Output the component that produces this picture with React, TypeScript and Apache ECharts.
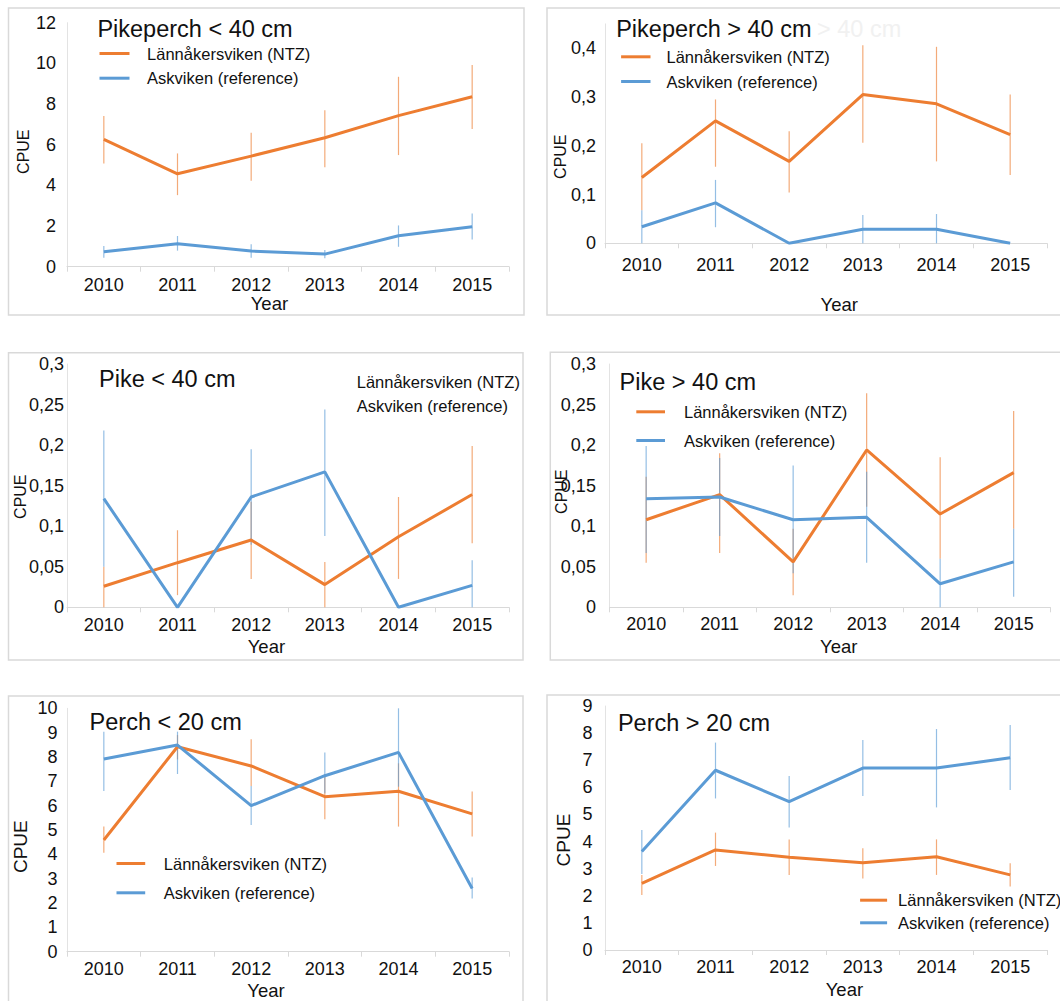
import React, { useEffect, useRef } from 'react';
import * as echarts from 'echarts';

const FONT = '"Liberation Sans", Arial, Helvetica, sans-serif';
const ORANGE = '#ed7d31';
const BLUE = '#5b9bd5';
const NTZ = 'Lännåkersviken (NTZ)';
const REF = 'Askviken (reference)';

const years = ['2010', '2011', '2012', '2013', '2014', '2015'];

// Panel 1: Pikeperch < 40 cm
const p1Ntz = [6.26, 4.57, 5.44, 6.34, 7.43, 8.36];
const p1NtzLow = [5.08, 3.52, 4.23, 4.89, 5.49, 6.77];
const p1NtzHigh = [7.41, 5.57, 6.59, 7.7, 9.34, 9.92];
const p1Ref = [0.74, 1.13, 0.77, 0.62, 1.52, 1.97];
const p1RefLow = [0.44, 0.79, 0.44, 0.41, 0.98, 1.34];
const p1RefHigh = [1.02, 1.51, 1.1, 0.82, 2.03, 2.62];

// Panel 2: Pikeperch > 40 cm
const p2Ntz = [0.135, 0.251, 0.168, 0.305, 0.286, 0.223];
const p2NtzLow = [0.068, 0.157, 0.104, 0.206, 0.168, 0.14];
const p2NtzHigh = [0.205, 0.295, 0.23, 0.406, 0.403, 0.305];
const p2Ref = [0.034, 0.083, 0, 0.029, 0.029, 0];
const p2RefLow = [0, 0.033, 0, 0, 0, 0];
const p2RefHigh = [0.068, 0.13, 0, 0.058, 0.06, 0];

// Panel 3: Pike < 40 cm
const p3Ntz = [0.026, 0.055, 0.083, 0.028, 0.087, 0.139];
const p3NtzLow = [0, 0.015, 0.035, 0, 0.035, 0.079];
const p3NtzHigh = [0.05, 0.095, 0.13, 0.056, 0.136, 0.199];
const p3Ref = [0.134, 0, 0.136, 0.167, 0, 0.027];
const p3RefLow = [0.05, 0, 0.077, 0.088, 0, 0];
const p3RefHigh = [0.218, 0, 0.195, 0.244, 0, 0.058];

// Panel 4: Pike > 40 cm
const p4Ntz = [0.108, 0.139, 0.056, 0.194, 0.115, 0.166];
const p4NtzLow = [0.055, 0.067, 0.015, 0.124, 0.06, 0.097];
const p4NtzHigh = [0.161, 0.19, 0.097, 0.264, 0.185, 0.242];
const p4Ref = [0.134, 0.136, 0.108, 0.111, 0.029, 0.056];
const p4RefLow = [0.067, 0.088, 0.042, 0.055, 0, 0.013];
const p4RefHigh = [0.199, 0.184, 0.175, 0.167, 0.06, 0.097];

// Panel 5: Perch < 20 cm
const p5Ntz = [4.59, 8.42, 7.63, 6.37, 6.59, 5.66];
const p5NtzLow = [4.07, 7.9, 6.81, 5.44, 5.14, 4.73];
const p5NtzHigh = [5.14, 8.9, 8.73, 7.3, 7.74, 6.58];
const p5Ref = [7.92, 8.49, 6.0, 7.23, 8.19, 2.6];
const p5RefLow = [6.6, 7.3, 5.21, 6.51, 6.78, 2.19];
const p5RefHigh = [9.04, 9.04, 6.81, 8.18, 10.0, 3.05];

// Panel 6: Perch > 20 cm
const p6Ntz = [2.46, 3.69, 3.42, 3.22, 3.44, 2.77];
const p6NtzLow = [2.03, 3.1, 2.77, 2.64, 2.77, 2.34];
const p6NtzHigh = [2.77, 4.33, 4.08, 3.75, 4.08, 3.2];
const p6Ref = [3.63, 6.63, 5.47, 6.71, 6.71, 7.09];
const p6RefLow = [2.8, 5.59, 4.52, 5.68, 5.26, 5.9];
const p6RefHigh = [4.43, 7.65, 6.42, 7.75, 8.15, 8.3];

const panels = [
  { title: 'Pikeperch < 40 cm', yMax: 12, yInterval: 2, showMax: true,
    ntz: p1Ntz, ntzLow: p1NtzLow, ntzHigh: p1NtzHigh, ref: p1Ref, refLow: p1RefLow, refHigh: p1RefHigh },
  { title: 'Pikeperch > 40 cm', yMax: 0.45, yInterval: 0.1, showMax: false,
    ntz: p2Ntz, ntzLow: p2NtzLow, ntzHigh: p2NtzHigh, ref: p2Ref, refLow: p2RefLow, refHigh: p2RefHigh },
  { title: 'Pike < 40 cm', yMax: 0.3, yInterval: 0.05, showMax: true,
    ntz: p3Ntz, ntzLow: p3NtzLow, ntzHigh: p3NtzHigh, ref: p3Ref, refLow: p3RefLow, refHigh: p3RefHigh },
  { title: 'Pike > 40 cm', yMax: 0.3, yInterval: 0.05, showMax: true,
    ntz: p4Ntz, ntzLow: p4NtzLow, ntzHigh: p4NtzHigh, ref: p4Ref, refLow: p4RefLow, refHigh: p4RefHigh },
  { title: 'Perch < 20 cm', yMax: 10, yInterval: 1, showMax: true,
    ntz: p5Ntz, ntzLow: p5NtzLow, ntzHigh: p5NtzHigh, ref: p5Ref, refLow: p5RefLow, refHigh: p5RefHigh },
  { title: 'Perch > 20 cm', yMax: 9, yInterval: 1, showMax: true,
    ntz: p6Ntz, ntzLow: p6NtzLow, ntzHigh: p6NtzHigh, ref: p6Ref, refLow: p6RefLow, refHigh: p6RefHigh },
];

// Layout (positions / sizes only)
const layouts = [
  { box: [8.5, 8, 515.5, 307], grid: { left: 67, top: 22.7, width: 442, height: 244 },
    titlePos: [97.4, 29.3], cpue: [23.7, 151.7, 16], year: [269.4, 303.3],
    xMargin: 9.3, yMargin: 11,
    legend: { left: 98, top: 45, itemWidth: 30, gap: 7.7, pad: 12.6, noIcon: false } },
  { box: [547, 8, 530, 307], grid: { left: 605, top: 23.9, width: 442, height: 219.4 },
    titlePos: [616.2, 29.3], cpue: [560.4, 156.7, 16], year: [839.3, 304],
    xMargin: 12.7, yMargin: 9,
    legend: { left: 619.6, top: 48.3, itemWidth: 29.4, gap: 7.7, pad: 11, noIcon: false } },
  { box: [8.5, 352.7, 514.5, 307.3], grid: { left: 67, top: 364, width: 442, height: 243.3 },
    titlePos: [99, 379.3], cpue: [20.3, 496.7, 16], year: [266.4, 646.7],
    xMargin: 8.7, yMargin: 3,
    legend: { left: 341.7, top: 371.7, itemWidth: 10, gap: 6, pad: 0, noIcon: true } },
  { box: [550.3, 352.3, 530, 307.7], grid: { left: 609.4, top: 364, width: 441, height: 243.3 },
    titlePos: [619.6, 382.3], cpue: [561.1, 491.7, 16], year: [838.7, 646.7],
    xMargin: 7.7, yMargin: 13.5,
    legend: { left: 634.8, top: 403.3, itemWidth: 28.7, gap: 11.7, pad: 14, noIcon: false } },
  { box: [8.5, 696, 514.5, 320], grid: { left: 67, top: 708.3, width: 442, height: 243.4 },
    titlePos: [89.6, 721.7], cpue: [20.3, 846.7, 19], year: [266, 990.5],
    xMargin: 8.6, yMargin: 9.5,
    legend: { left: 115, top: 855, itemWidth: 28.7, gap: 12.3, pad: 13.6, noIcon: false } },
  { box: [547, 695, 530, 320], grid: { left: 605, top: 706, width: 442, height: 244 },
    titlePos: [617.9, 722.7], cpue: [563.8, 840, 19], year: [844.4, 989],
    xMargin: 7.7, yMargin: 12.5,
    legend: { left: 858.6, top: 891.7, itemWidth: 27, gap: 5.6, pad: 6, noIcon: false } },
];

const fmt = (v: number) => String(parseFloat(Number(v).toFixed(3))).replace('.', ',');

function errSeries(i: number, low: number[], high: number[], color: string, name: string) {
  return {
    type: 'custom',
    name,
    xAxisIndex: i,
    yAxisIndex: i,
    z: 1,
    silent: true,
    encode: { x: 0, y: [1, 2] },
    data: low.map((l, k) => [k, l, high[k]]),
    renderItem: (params: any, api: any) => {
      const a = api.coord([api.value(0), api.value(1)]);
      const b = api.coord([api.value(0), api.value(2)]);
      return {
        type: 'line',
        shape: { x1: a[0], y1: a[1], x2: b[0], y2: b[1] },
        style: { stroke: color, lineWidth: 1.2, opacity: 0.65 },
      };
    },
  };
}

function buildOption() {
  const series: any[] = [];
  panels.forEach((p, i) => {
    series.push(errSeries(i, p.ntzLow, p.ntzHigh, ORANGE, 'errNTZ' + i));
    series.push(errSeries(i, p.refLow, p.refHigh, BLUE, 'errRef' + i));
    series.push({
      type: 'line', name: NTZ, xAxisIndex: i, yAxisIndex: i, data: p.ntz,
      symbol: 'none', showSymbol: false, z: 3,
      lineStyle: { color: ORANGE, width: 3 }, itemStyle: { color: ORANGE },
    });
    series.push({
      type: 'line', name: REF, xAxisIndex: i, yAxisIndex: i, data: p.ref,
      symbol: 'none', showSymbol: false, z: 4,
      lineStyle: { color: BLUE, width: 3 }, itemStyle: { color: BLUE },
    });
  });

  const graphic: any[] = [];
  layouts.forEach((L) => {
    graphic.push({
      type: 'rect', z: -10, silent: true,
      shape: { x: L.box[0], y: L.box[1], width: L.box[2], height: L.box[3] },
      style: { fill: '#ffffff', stroke: '#d9d9d9', lineWidth: 1.5 },
    });
  });
  layouts.forEach((L, i) => {
    graphic.push({
      type: 'text', x: L.titlePos[0], y: L.titlePos[1], z: 10,
      style: { text: panels[i].title, font: `23.5px ${FONT}`, fill: '#111111', align: 'left', verticalAlign: 'middle' },
    });
    graphic.push({
      type: 'text', x: L.cpue[0], y: L.cpue[1], rotation: Math.PI / 2, z: 10,
      style: { text: 'CPUE', font: `${L.cpue[2]}px ${FONT}`, fill: '#111111', align: 'center', verticalAlign: 'middle' },
    });
    graphic.push({
      type: 'text', x: L.year[0], y: L.year[1], z: 10,
      style: { text: 'Year', font: `18.5px ${FONT}`, fill: '#111111', align: 'center', verticalAlign: 'middle' },
    });
  });
  // faint ghost text visible in the Pikeperch > 40 cm panel
  graphic.push({
    type: 'text', x: 817, y: 29.3, z: 5,
    style: { text: '> 40 cm', font: `23.5px ${FONT}`, fill: '#f1f1f1', align: 'left', verticalAlign: 'middle' },
  });

  return {
    animation: false,
    backgroundColor: '#ffffff',
    textStyle: { fontFamily: FONT },
    grid: layouts.map((L) => ({ ...L.grid, containLabel: false })),
    xAxis: layouts.map((L, i) => ({
      type: 'category', gridIndex: i, data: years, boundaryGap: true,
      axisLine: { show: true, lineStyle: { color: '#d9d9d9', width: 1 } },
      axisTick: { show: true, length: 5, interval: 0, lineStyle: { color: '#d9d9d9' } },
      axisLabel: { fontSize: 18, color: '#111111', fontFamily: FONT, margin: L.xMargin, interval: 0 },
      splitLine: { show: false },
    })),
    yAxis: layouts.map((L, i) => ({
      type: 'value', gridIndex: i, min: 0, max: panels[i].yMax, interval: panels[i].yInterval,
      axisLine: { show: true, lineStyle: { color: '#e3e3e3', width: 1 } },
      axisTick: { show: false },
      splitLine: { show: false },
      axisLabel: {
        fontSize: 18, color: '#111111', fontFamily: FONT, margin: L.yMargin,
        formatter: fmt, showMaxLabel: panels[i].showMax, showMinLabel: true,
      },
    })),
    legend: layouts.map((L) => {
      const lg: any = {
        data: [NTZ, REF],
        orient: 'vertical',
        left: L.legend.left,
        top: L.legend.top,
        itemWidth: L.legend.itemWidth,
        itemHeight: 20,
        itemGap: L.legend.gap,
        padding: 0,
        selectedMode: false,
        itemStyle: { opacity: 0 },
        lineStyle: { width: 3, opacity: 1 },
        textStyle: { fontSize: 16.5, fontFamily: FONT, color: '#111111', padding: [0, 0, 0, L.legend.pad] },
      };
      if (L.legend.noIcon) lg.icon = 'none';
      return lg;
    }),
    series,
    graphic,
  };
}

export default function App() {
  const ref = useRef<HTMLDivElement>(null);
  useEffect(() => {
    if (!ref.current) return;
    const chart = echarts.init(ref.current, null, { renderer: 'svg' });
    chart.setOption(buildOption() as any);
    return () => chart.dispose();
  }, []);
  return (
    <div
      ref={ref}
      style={{ position: 'fixed', left: 0, top: 0, width: 1060, height: 1001, background: '#ffffff' }}
    />
  );
}
